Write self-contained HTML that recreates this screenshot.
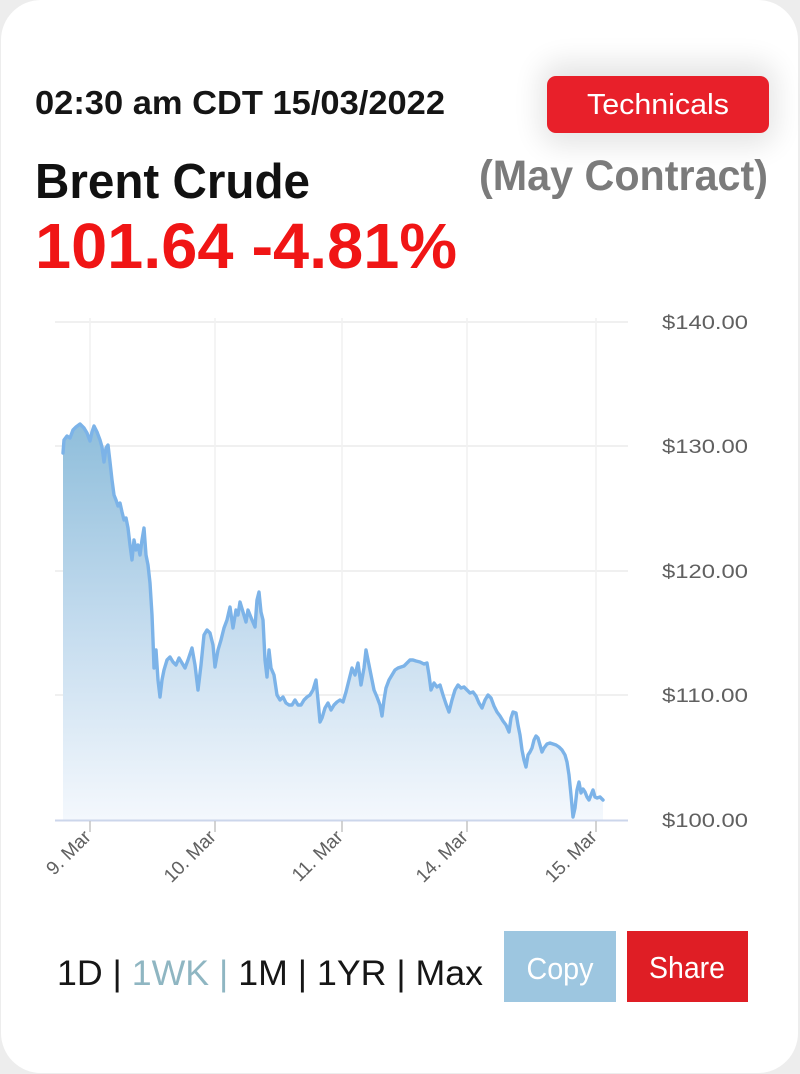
<!DOCTYPE html>
<html>
<head>
<meta charset="utf-8">
<style>
html,body{margin:0;padding:0;background:#ededed;}
body{width:800px;height:1074px;overflow:hidden;}
svg{display:block;}
text{font-family:"Liberation Sans",Arial,sans-serif;}
</style>
</head>
<body>
<svg width="800" height="1074" viewBox="0 0 800 1074" xmlns="http://www.w3.org/2000/svg">
  <defs>
    <linearGradient id="fillg" gradientUnits="userSpaceOnUse" x1="0" y1="424" x2="0" y2="820">
      <stop offset="0" stop-color="#8fbedb"/>
      <stop offset="0.5" stop-color="#c3dbee"/>
      <stop offset="1" stop-color="#f4f8fd"/>
    </linearGradient>
    <filter id="sh" x="-30%" y="-60%" width="160%" height="220%">
      <feGaussianBlur stdDeviation="14"/>
    </filter>
  </defs>

  <!-- card -->
  <rect x="1" y="0" width="797" height="1073" rx="40" ry="40" fill="#ffffff"/>

  <!-- header -->
  <text x="35" y="114" font-size="33" font-weight="bold" fill="#151515" textLength="410" lengthAdjust="spacingAndGlyphs">02:30 am CDT 15/03/2022</text>

  <rect x="540" y="62" width="236" height="84" rx="20" fill="#000" opacity="0.10" filter="url(#sh)"/>
  <rect x="547" y="76" width="222" height="57" rx="9" fill="#e8202a"/>
  <text x="658" y="114" font-size="29" fill="#ffffff" text-anchor="middle" textLength="142" lengthAdjust="spacingAndGlyphs">Technicals</text>

  <text x="35" y="198" font-size="49" font-weight="bold" fill="#111111" textLength="275" lengthAdjust="spacingAndGlyphs">Brent Crude</text>
  <text x="479" y="190" font-size="43" font-weight="bold" fill="#7b7b7b" textLength="289" lengthAdjust="spacingAndGlyphs">(May Contract)</text>

  <text x="35" y="268" font-size="64" font-weight="bold" fill="#f01515" textLength="422" lengthAdjust="spacingAndGlyphs">101.64 -4.81%</text>

  <!-- grid -->
  <g stroke="#ebebeb" stroke-width="1.5">
    <line x1="55" y1="322" x2="628" y2="322"/>
    <line x1="55" y1="446" x2="628" y2="446"/>
    <line x1="55" y1="571" x2="628" y2="571"/>
    <line x1="55" y1="695" x2="628" y2="695"/>
  </g>
  <g stroke="#f1f1f1" stroke-width="1.5">
    <line x1="90" y1="318" x2="90" y2="820"/>
    <line x1="215" y1="318" x2="215" y2="820"/>
    <line x1="342" y1="318" x2="342" y2="820"/>
    <line x1="467" y1="318" x2="467" y2="820"/>
    <line x1="596" y1="318" x2="596" y2="820"/>
  </g>

  <!-- area -->
  <path fill="url(#fillg)" stroke="none" d="M63,820 L63,453 L64,440 L67,436 L70,438 L73,430 L76,427 L80,424 L84,428 L87,433 L90,441 L92,432 L94,426 L97,432 L100,440 L102,447 L104,462 L106,448 L108,445 L110,462 L112,480 L114,495 L116,500 L118,506 L120,503 L122,512 L124,520 L126,518 L128,528 L130,545 L132,560 L134,540 L136,550 L138,545 L140,555 L142,540 L144,528 L146,555 L148,565 L150,583 L152,615 L153,640 L154,668 L156,650 L158,680 L160,697 L162,680 L164,670 L167,660 L170,657 L173,662 L176,665 L179,658 L182,663 L185,668 L188,660 L192,648 L195,665 L198,690 L201,665 L204,635 L207,630 L210,633 L213,645 L215,667 L218,650 L221,640 L224,628 L227,620 L230,607 L233,628 L236,610 L238,615 L240,602 L243,612 L246,622 L248,610 L252,620 L255,627 L257,600 L259,592 L261,612 L263,620 L265,660 L267,677 L269,650 L271,668 L274,675 L277,695 L280,700 L283,697 L286,703 L289,705 L292,705 L295,700 L298,705 L301,705 L304,700 L307,697 L310,695 L313,690 L316,680 L318,700 L320,722 L322,718 L325,708 L328,703 L331,710 L334,705 L337,702 L340,700 L343,702 L346,692 L349,680 L352,668 L355,675 L358,663 L361,685 L364,668 L366,650 L368,660 L371,675 L374,690 L377,697 L380,705 L382,716 L384,700 L386,688 L389,680 L392,675 L395,670 L398,668 L401,667 L404,666 L407,663 L410,660 L413,660 L416,661 L420,662 L424,664 L427,663 L429,675 L431,690 L434,683 L437,687 L440,685 L443,695 L446,704 L449,712 L452,700 L455,690 L458,685 L461,688 L464,687 L467,690 L470,693 L473,692 L476,696 L479,703 L482,708 L485,700 L488,695 L491,698 L494,706 L497,712 L500,716 L503,721 L506,725 L509,732 L511,718 L513,712 L516,713 L518,725 L520,735 L522,750 L524,760 L526,767 L528,755 L530,752 L532,748 L534,740 L536,736 L538,738 L540,745 L542,752 L544,748 L547,744 L550,743 L553,744 L556,745 L559,747 L562,750 L565,755 L567,762 L569,775 L571,795 L573,817 L575,808 L577,790 L579,782 L581,793 L583,789 L585,792 L587,797 L589,800 L591,795 L593,790 L595,797 L597,798 L600,797 L603,800 L603,820 Z"/>

  <!-- line -->
  <polyline fill="none" stroke="#7cb3e8" stroke-width="3.4" stroke-linejoin="round" stroke-linecap="round" points="63,453 64,440 67,436 70,438 73,430 76,427 80,424 84,428 87,433 90,441 92,432 94,426 97,432 100,440 102,447 104,462 106,448 108,445 110,462 112,480 114,495 116,500 118,506 120,503 122,512 124,520 126,518 128,528 130,545 132,560 134,540 136,550 138,545 140,555 142,540 144,528 146,555 148,565 150,583 152,615 153,640 154,668 156,650 158,680 160,697 162,680 164,670 167,660 170,657 173,662 176,665 179,658 182,663 185,668 188,660 192,648 195,665 198,690 201,665 204,635 207,630 210,633 213,645 215,667 218,650 221,640 224,628 227,620 230,607 233,628 236,610 238,615 240,602 243,612 246,622 248,610 252,620 255,627 257,600 259,592 261,612 263,620 265,660 267,677 269,650 271,668 274,675 277,695 280,700 283,697 286,703 289,705 292,705 295,700 298,705 301,705 304,700 307,697 310,695 313,690 316,680 318,700 320,722 322,718 325,708 328,703 331,710 334,705 337,702 340,700 343,702 346,692 349,680 352,668 355,675 358,663 361,685 364,668 366,650 368,660 371,675 374,690 377,697 380,705 382,716 384,700 386,688 389,680 392,675 395,670 398,668 401,667 404,666 407,663 410,660 413,660 416,661 420,662 424,664 427,663 429,675 431,690 434,683 437,687 440,685 443,695 446,704 449,712 452,700 455,690 458,685 461,688 464,687 467,690 470,693 473,692 476,696 479,703 482,708 485,700 488,695 491,698 494,706 497,712 500,716 503,721 506,725 509,732 511,718 513,712 516,713 518,725 520,735 522,750 524,760 526,767 528,755 530,752 532,748 534,740 536,736 538,738 540,745 542,752 544,748 547,744 550,743 553,744 556,745 559,747 562,750 565,755 567,762 569,775 571,795 573,817 575,808 577,790 579,782 581,793 583,789 585,792 587,797 589,800 591,795 593,790 595,797 597,798 600,797 603,800"/>

  <!-- x axis -->
  <line x1="55" y1="820.5" x2="628" y2="820.5" stroke="#ccd6eb" stroke-width="2"/>
  <g stroke="#c4c4c4" stroke-width="1.5">
    <line x1="90" y1="821" x2="90" y2="832"/>
    <line x1="215" y1="821" x2="215" y2="832"/>
    <line x1="342" y1="821" x2="342" y2="832"/>
    <line x1="467" y1="821" x2="467" y2="832"/>
    <line x1="596" y1="821" x2="596" y2="832"/>
  </g>
  <g font-size="19" fill="#606060" text-anchor="end">
    <text transform="translate(92,838) rotate(-45)">9. Mar</text>
    <text transform="translate(217,838) rotate(-45)">10. Mar</text>
    <text transform="translate(344,838) rotate(-45)">11. Mar</text>
    <text transform="translate(469,838) rotate(-45)">14. Mar</text>
    <text transform="translate(598,838) rotate(-45)">15. Mar</text>
  </g>

  <!-- y labels -->
  <g font-size="19" fill="#606060">
    <text x="662" y="329" textLength="86" lengthAdjust="spacingAndGlyphs">$140.00</text>
    <text x="662" y="453" textLength="86" lengthAdjust="spacingAndGlyphs">$130.00</text>
    <text x="662" y="578" textLength="86" lengthAdjust="spacingAndGlyphs">$120.00</text>
    <text x="662" y="702" textLength="86" lengthAdjust="spacingAndGlyphs">$110.00</text>
    <text x="662" y="827" textLength="86" lengthAdjust="spacingAndGlyphs">$100.00</text>
  </g>

  <!-- bottom nav -->
  <text x="57" y="985" font-size="35" fill="#161616" textLength="426" lengthAdjust="spacingAndGlyphs">1D | <tspan fill="#8fb6c2">1WK |</tspan> 1M | 1YR | Max</text>

  <rect x="504" y="931" width="112" height="71" fill="#9dc6e0"/>
  <text x="560" y="979" font-size="31" fill="#ffffff" text-anchor="middle" textLength="67" lengthAdjust="spacingAndGlyphs">Copy</text>

  <rect x="627" y="931" width="121" height="71" fill="#df1e25"/>
  <text x="687" y="978" font-size="31" fill="#ffffff" text-anchor="middle" textLength="76" lengthAdjust="spacingAndGlyphs">Share</text>
</svg>
</body>
</html>
